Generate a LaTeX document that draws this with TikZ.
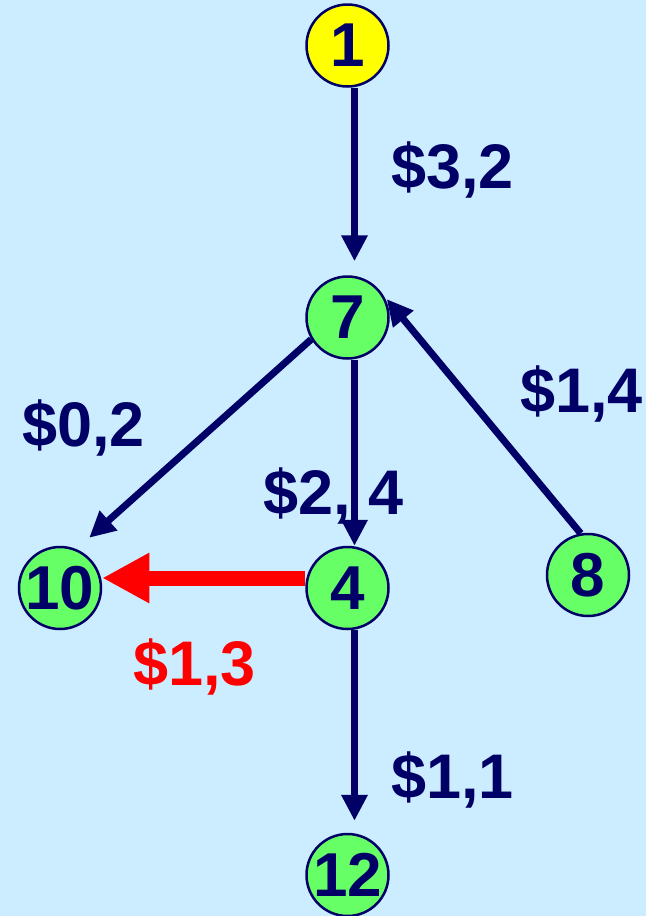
\documentclass[tikz,border=0pt]{standalone}
\usepackage{fontspec}
\setmainfont{Liberation Sans}
\usetikzlibrary{arrows.meta}
\definecolor{bgblue}{HTML}{CCECFF}
\definecolor{navy}{HTML}{000066}
\definecolor{nodegreen}{HTML}{66FF66}
\definecolor{nodeyellow}{HTML}{FFFF00}
\definecolor{hired}{HTML}{FF0000}
\pgfdeclarelayer{bg}
\pgfdeclarelayer{edges}
\pgfsetlayers{bg,edges,main}
\begin{document}
\begin{tikzpicture}[x=1pt,y=-1pt,
  vertex/.style={circle, draw=navy, line width=2.5pt, fill=nodegreen,
    minimum size=82pt, inner sep=0pt, text=navy,
    font=\fontsize{62}{62}\selectfont\bfseries},
  startvertex/.style={vertex, fill=nodeyellow},
  edgearrow/.style={draw=navy, line width=7pt, -{Triangle[width=25pt,length=26pt]}},
  redarrow/.style={draw=hired, line width=15pt, -{Triangle[width=47pt,length=47pt]}},
  cost/.style={anchor=base west, inner sep=0pt, text=navy,
    font=\fontsize{63}{63}\selectfont\bfseries},
]
\useasboundingbox (0,0) rectangle (646,916);
\begin{pgfonlayer}{bg}
  \fill[bgblue] (0,0) rectangle (646,916);
\end{pgfonlayer}

\node[startvertex] (n1) at (347.5,45.5) {1};
\node[vertex] (n7) at (347.5,317.5) {7};
\node[vertex] (n10) at (60,588) {10};
\node[vertex] (n4) at (347.5,588) {4};
\node[vertex] (n8) at (588,575) {8};
\node[vertex] (n12) at (347.5,875) {12};

\begin{pgfonlayer}{edges}
  \draw[edgearrow, shorten >=14pt] ([xshift=7pt]n1.south) -- ([xshift=7pt]n7.north);
  \draw[edgearrow] ([xshift=7pt]n7.south) -- ([xshift=7pt]n4.north);
  \draw[edgearrow, shorten >=12pt] ([xshift=7pt]n4.south) -- ([xshift=7pt]n12.north);
  \draw[edgearrow, shorten >=17pt] (n7.211) -- (n10.67);
  \draw[edgearrow, shorten >=6pt] (n8.100) -- (n7.33);
  \draw[redarrow] ([yshift=10pt]n4.west) -- ([yshift=10pt]n10.east);
\end{pgfonlayer}

\node[cost] (l32) at (391,188) {\$3,2};
\node[cost] (l02) at (22,446) {\$0,2};
\node[cost] (l24) at (263,514) {\$2, 4};
\node[cost] (l14) at (520,412) {\$1,4};
\node[cost] (l11) at (391,798) {\$1,1};
\node[cost, text=hired] (l13) at (133,685) {\$1,3};
\end{tikzpicture}
\end{document}
